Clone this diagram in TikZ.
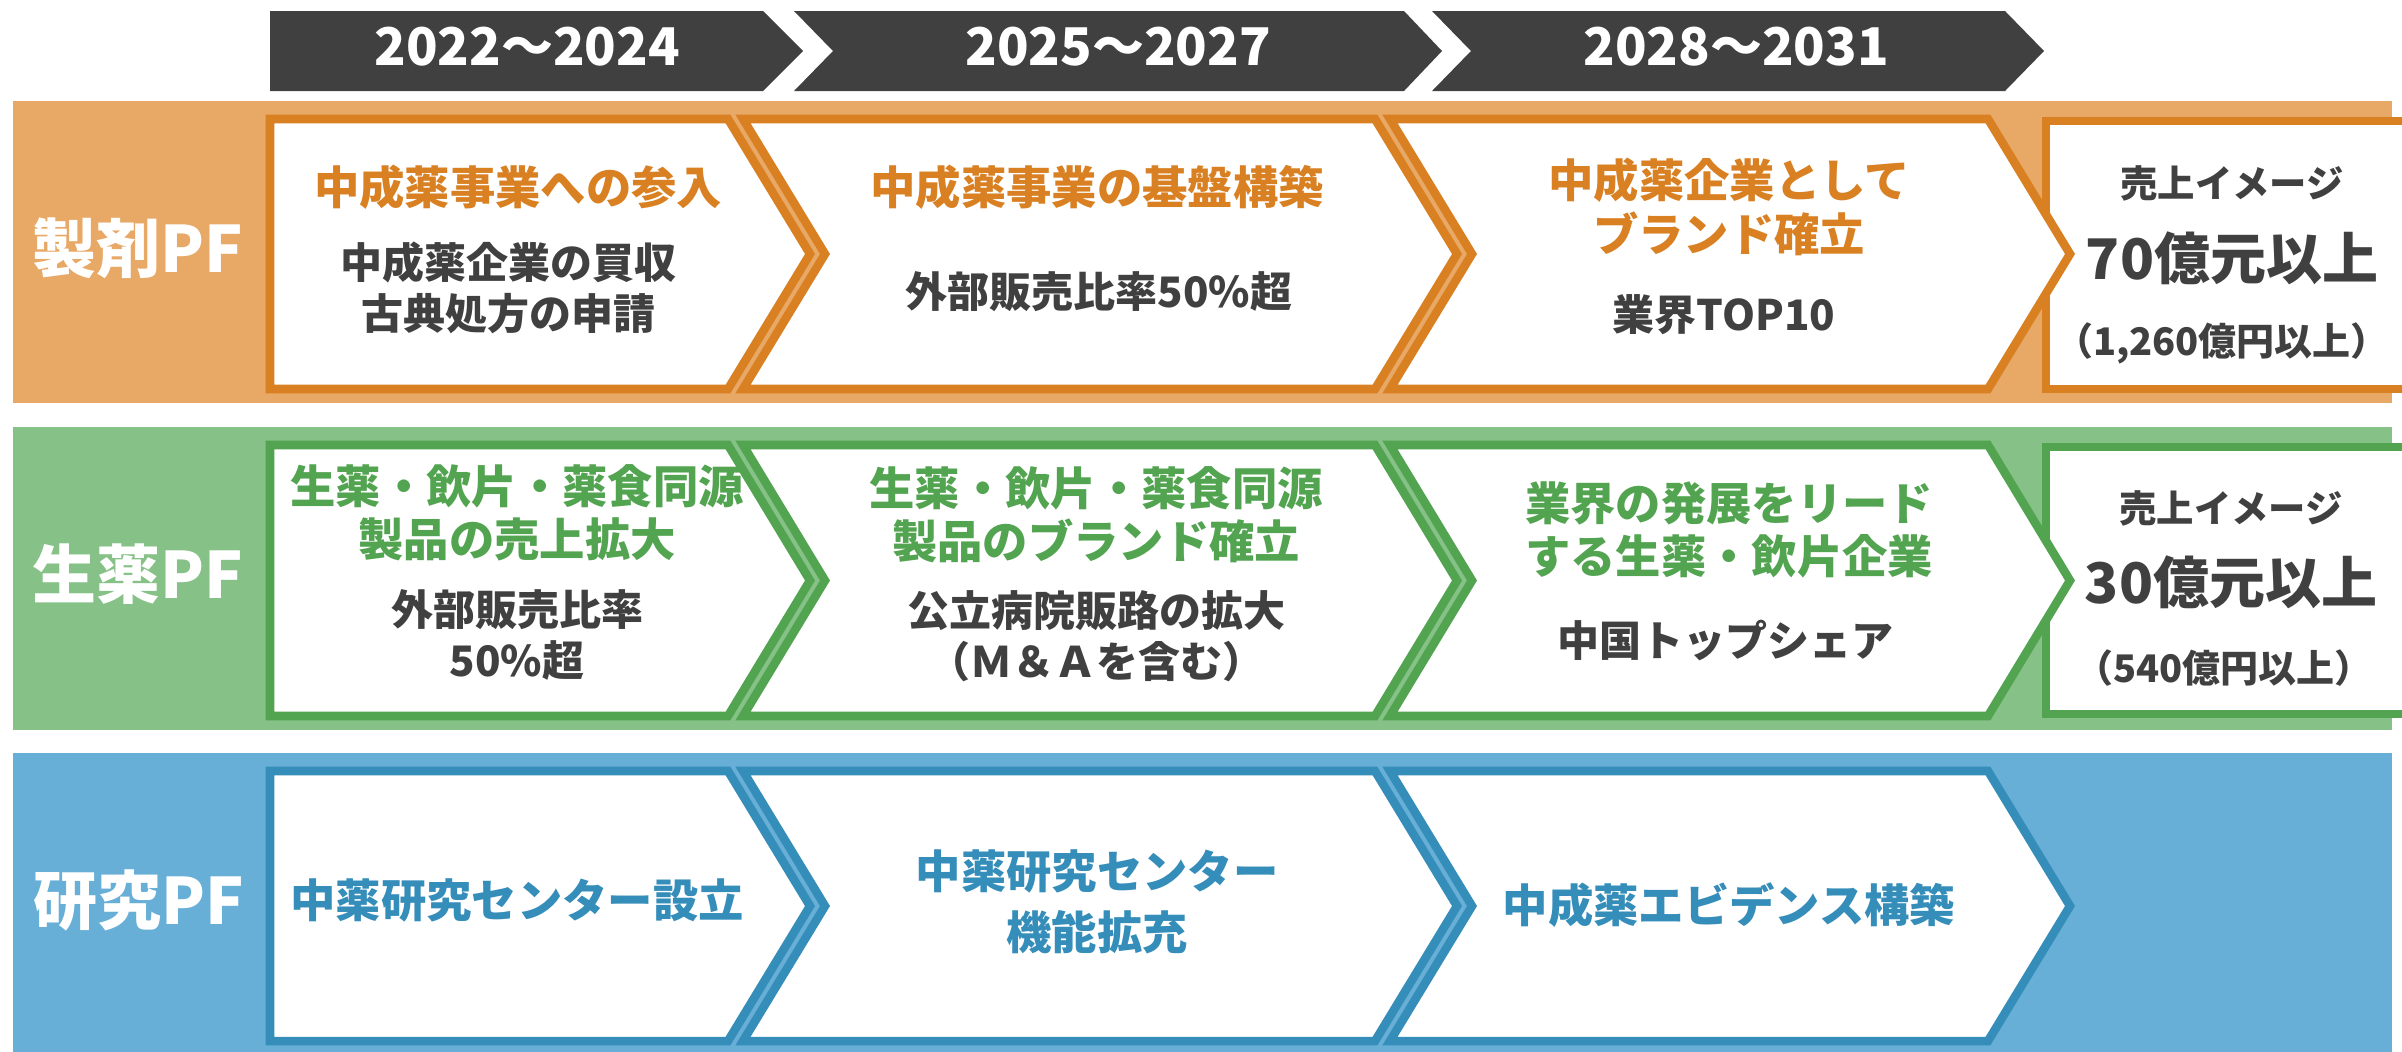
\documentclass[tikz,border=0pt]{standalone}
\usepackage{fontspec}
\setmainfont{Noto Sans CJK JP}
\definecolor{hdrgray}{HTML}{404040}
\definecolor{txtgray}{HTML}{404040}
\definecolor{oband}{HTML}{E8A866}
\definecolor{oline}{HTML}{D98022}
\definecolor{gband}{HTML}{86C187}
\definecolor{gline}{HTML}{52A450}
\definecolor{bband}{HTML}{67AFD6}
\definecolor{bline}{HTML}{358DBA}
% #1 style, #2 x left, #3 x right (top corner), #4 y top, #5 y bottom, #6 notch depth
\newcommand\drawchev[6]{%
  \draw[#1] (#2,#4) -- (#3,#4) -- ({#3+82},{(#4+#5)/2}) -- (#3,#5) -- (#2,#5)
    -- ({#2+#6},{(#4+#5)/2}) -- cycle;}
\begin{document}
\begin{tikzpicture}[x=0.75pt,y=-0.75pt,
  hdrbox/.style={fill=hdrgray,draw=none},
  hdrtxt/.style={text=white,font=\bfseries\fontsize{39}{39}\selectfont},
  rowlbl/.style={text=white,font=\bfseries\fontsize{48}{48}\selectfont},
  chevbox/.style={fill=white,line width=6.4pt,miter limit=10},
  ttl/.style={font=\bfseries\fontsize{34}{40}\selectfont,align=center},
  bdy/.style={text=txtgray,font=\bfseries\fontsize{31.5}{38}\selectfont,align=center},
  salessmall/.style={text=txtgray,font=\bfseries\fontsize{28}{28}\selectfont},
  salesbig/.style={text=txtgray,font=\bfseries\fontsize{42}{42}\selectfont},
  salesyen/.style={text=txtgray,font=\bfseries\fontsize{28.5}{29}\selectfont}]
\useasboundingbox (0,0) rectangle (2402,1051);
\clip (0,0) rectangle (2402,1051);

% ---------- header arrows ----------
\fill[hdrbox] (270,11) -- (763,11) -- (803,51) -- (763,91) -- (270,91) -- cycle;
\fill[hdrbox] (794,11) -- (1404,11) -- (1442,51) -- (1404,91) -- (794,91) -- (833,51) -- cycle;
\fill[hdrbox] (1432,11) -- (2005,11) -- (2044,51) -- (2005,91) -- (1432,91) -- (1471,51) -- cycle;
\node[hdrtxt] (h1) at (527,47) {2022～2024};
\node[hdrtxt] (h2) at (1118,47) {2025～2027};
\node[hdrtxt] (h3) at (1736,47) {2028～2031};

% ---------- bands ----------
\fill[oband] (13,101) rectangle (2392,403);
\fill[gband] (13,427) rectangle (2392,730);
\fill[bband] (13,753) rectangle (2392,1060);

% ---------- orange row ----------
\drawchev{chevbox,draw=oline}{270}{728}{119}{389}{0}
\drawchev{chevbox,draw=oline}{743}{1375}{119}{389}{82}
\draw[chevbox,draw=oline] (2046,121) rectangle (2450,389);
\drawchev{chevbox,draw=oline}{1390}{1988}{119}{389}{82}

% ---------- green row ----------
\drawchev{chevbox,draw=gline}{270}{728}{445}{716}{0}
\drawchev{chevbox,draw=gline}{743}{1375}{445}{716}{82}
\draw[chevbox,draw=gline] (2046,447) rectangle (2450,714);
\drawchev{chevbox,draw=gline}{1390}{1988}{445}{716}{82}

% ---------- blue row ----------
\drawchev{chevbox,draw=bline}{270}{728}{771}{1041}{0}
\drawchev{chevbox,draw=bline}{743}{1375}{771}{1041}{82}
\drawchev{chevbox,draw=bline}{1390}{1988}{771}{1041}{82}

% ---------- row labels ----------
\node[rowlbl] (l1) at (138,248) {製剤PF};
\node[rowlbl] (l2) at (138,574) {生薬PF};
\node[rowlbl] (l3) at (139,900) {研究PF};

% ---------- orange texts ----------
\node[ttl,text=oline] (o1t) at (518,187) {中成薬事業への参入};
\node[bdy] (o1b) at (508,288) {中成薬企業の買収\\古典処方の申請};
\node[ttl,text=oline] (o2t) at (1097,187) {中成薬事業の基盤構築};
\node[bdy] (o2b) at (1099,292) {外部販売比率50\%超};
\node[ttl,text=oline] (o3t) at (1729,207) {中成薬企業として\\ブランド確立};
\node[bdy] (o3b) at (1724,315) {業界TOP10};
\node[salessmall] (o4a) at (2232,183) {売上イメージ};
\node[salesbig] (o4b) at (2232,258) {70億元以上};
\node[salesyen] (o4c) at (2222,343) {（1,260億円以上）};

% ---------- green texts ----------
\node[ttl,text=gline] (g1t) at (517,513) {生薬・飲片・薬食同源\\製品の売上拡大};
\node[bdy] (g1b) at (517,635) {外部販売比率\\50\%超};
\node[ttl,text=gline] (g2t) at (1096,515) {生薬・飲片・薬食同源\\製品のブランド確立};
\node[bdy] (g2b) at (1096,636) {公立病院販路の拡大\\（Ｍ＆Ａを含む）};
\node[ttl,text=gline] (g3t) at (1729,530) {業界の発展をリード\\する生薬・飲片企業};
\node[bdy] (g3b) at (1725,640) {中国トップシェア};
\node[salessmall] (g4a) at (2231,508) {売上イメージ};
\node[salesbig] (g4b) at (2231,582) {30億元以上};
\node[salesyen] (g4c) at (2224,668) {（540億円以上）};

% ---------- blue texts ----------
\node[ttl,text=bline] (b1t) at (517,900) {中薬研究センター設立};
\node[ttl,text=bline,font=\bfseries\fontsize{34}{46}\selectfont] (b2t) at (1097,902) {中薬研究センター\\機能拡充};
\node[ttl,text=bline] (b3t) at (1729,905) {中成薬エビデンス構築};
\end{tikzpicture}
\end{document}
